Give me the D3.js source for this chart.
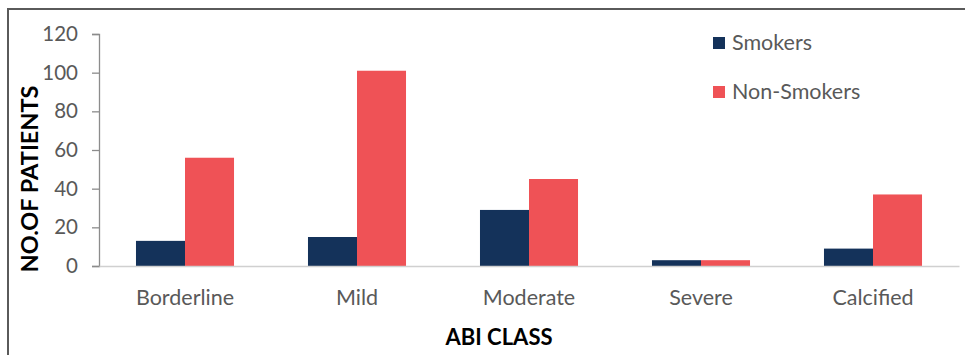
<!DOCTYPE html>
<html><head><meta charset="utf-8">
<script src="https://cdn.jsdelivr.net/npm/d3@7"></script>
<style>body{margin:0;background:#fff}svg{display:block}text{font-family:Lato,"Open Sans",sans-serif}</style>
</head><body><svg id="c" width="965" height="355"></svg>
<script>
const categories = ["Borderline","Mild","Moderate","Severe","Calcified"];
const seriesNames = ["Smokers","Non-Smokers"];
const smokers = [13,15,29,3,9];
const nonSmokers = [56,101,45,3,37];
const yTicks = [0,20,40,60,80,100,120];
const colors = ["#14325a","#ef5256"];
const yTitle = "NO.OF PATIENTS";
const xTitle = "ABI CLASS";

const svg = d3.select("#c");
// frame
svg.append("path").attr("d","M8,400 V9 H980").attr("fill","none").attr("stroke","#5a5a5a").attr("stroke-width",2);

const x = d3.scaleBand().domain(categories).range([99,959]).paddingInner(0.43).paddingOuter(0.215);
const xs = d3.scaleBand().domain(seriesNames).range([0,x.bandwidth()]);
const y = d3.scaleLinear().domain([0,120]).range([266,34]);

const data = categories.map((c,i)=>({cat:c, vals:[smokers[i],nonSmokers[i]]}));
const g = svg.append("g");
g.selectAll("g.cat").data(data).join("g").attr("class","cat")
 .attr("transform",d=>`translate(${x(d.cat)},0)`)
 .selectAll("rect").data(d=>d.vals.map((v,j)=>({v,j})))
 .join("rect")
 .attr("x",d=>xs(seriesNames[d.j])).attr("width",xs.bandwidth())
 .attr("y",d=>y(d.v)).attr("height",d=>y(0)-y(d.v))
 .attr("fill",d=>colors[d.j]);

// y axis
const ya = svg.append("g").attr("transform","translate(99,0)")
 .call(d3.axisLeft(y).tickValues(yTicks).tickSize(7).tickPadding(14));
ya.select(".domain").attr("stroke","#8c8c8c").attr("stroke-width",1.3);
ya.selectAll(".tick line").attr("stroke","#8c8c8c").attr("stroke-width",1.3);
ya.selectAll("text").attr("fill","#595959").style("font-size","20.5px").style("font-family","Lato");

// x axis
const xa = svg.append("g").attr("transform","translate(0,266)")
 .call(d3.axisBottom(x).tickSize(0).tickPadding(24));
xa.select(".domain").attr("stroke","#d0d0d0").attr("stroke-width",1.5);
xa.selectAll("text").attr("fill","#595959").style("font-size","21.5px").style("font-family","Lato");

// titles
svg.append("text").attr("transform","translate(38,179) rotate(-90)").attr("text-anchor","middle")
 .style("font-size","23.5px").style("font-weight","bold").attr("fill","#000").text(yTitle);
svg.append("text").attr("x",499).attr("y",345).attr("text-anchor","middle")
 .style("font-size","22px").style("font-weight","bold").attr("fill","#000").text(xTitle);

// legend
const lg = svg.append("g");
seriesNames.forEach((s,i)=>{
  const yy = 37 + i*49;
  lg.append("rect").attr("x",713).attr("y",yy).attr("width",12).attr("height",12).attr("fill",colors[i]);
  lg.append("text").attr("x",732).attr("y",yy+13).attr("fill","#595959").style("font-size","21.5px").text(s);
});
</script></body></html>
